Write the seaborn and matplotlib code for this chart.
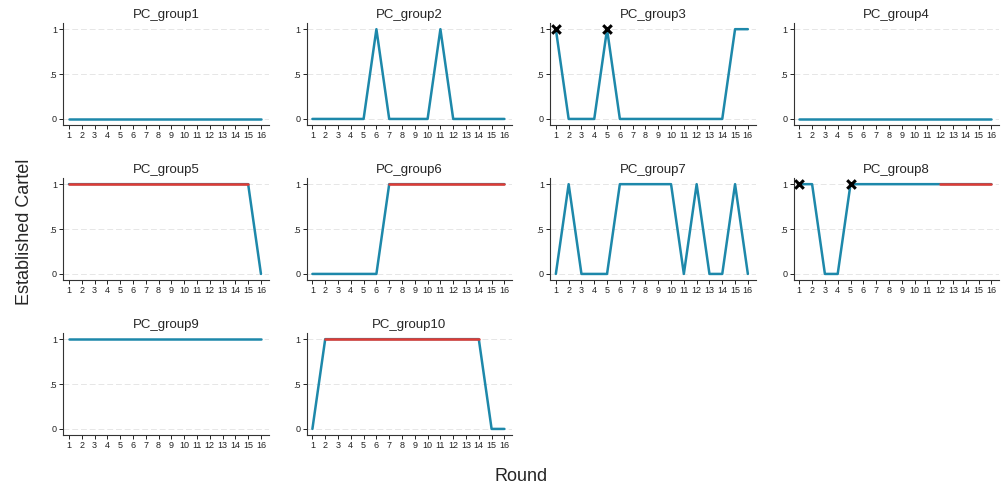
import numpy as np
import pandas as pd
import matplotlib
matplotlib.use("Agg")
import matplotlib.pyplot as plt
import seaborn as sns

rounds = list(range(1, 17))

g1 = [0, 0, 0, 0, 0, 0, 0, 0, 0, 0, 0, 0, 0, 0, 0, 0]
g2 = [0, 0, 0, 0, 0, 1, 0, 0, 0, 0, 1, 0, 0, 0, 0, 0]
g3 = [1, 0, 0, 0, 1, 0, 0, 0, 0, 0, 0, 0, 0, 0, 1, 1]
g4 = [0, 0, 0, 0, 0, 0, 0, 0, 0, 0, 0, 0, 0, 0, 0, 0]
g5 = [1, 1, 1, 1, 1, 1, 1, 1, 1, 1, 1, 1, 1, 1, 1, 0]
g6 = [0, 0, 0, 0, 0, 0, 1, 1, 1, 1, 1, 1, 1, 1, 1, 1]
g7 = [0, 1, 0, 0, 0, 1, 1, 1, 1, 1, 0, 1, 0, 0, 1, 0]
g8 = [1, 1, 0, 0, 1, 1, 1, 1, 1, 1, 1, 1, 1, 1, 1, 1]
g9 = [1, 1, 1, 1, 1, 1, 1, 1, 1, 1, 1, 1, 1, 1, 1, 1]
g10 = [0, 1, 1, 1, 1, 1, 1, 1, 1, 1, 1, 1, 1, 1, 0, 0]

# rounds drawn in red (stable cartel stretch), inclusive
red_span = {5: (1, 15), 6: (7, 16), 8: (12, 16), 10: (2, 14)}
# rounds marked with an x
x_marks = {3: [1, 5], 8: [1, 5]}

series = [g1, g2, g3, g4, g5, g6, g7, g8, g9, g10]
rows = []
for i, vals in enumerate(series, start=1):
    for r, v in zip(rounds, vals):
        rows.append({"group": i, "Round": r, "cartel": v})
df = pd.DataFrame(rows)

TEAL = "#1d88aa"
RED = "#e23b34"

sns.set_style("white")
plt.rcParams["font.family"] = ["Liberation Sans", "DejaVu Sans"]

fig, axes = plt.subplots(3, 4, figsize=(10.03, 4.91), dpi=100)
fig.subplots_adjust(left=0.063, right=0.996, top=0.953, bottom=0.114,
                    wspace=0.185, hspace=0.52)

for k, ax in enumerate(axes.flat):
    g = k + 1
    if g > 10:
        ax.axis("off")
        continue
    sub = df[df["group"] == g]
    for yv in [0, 0.5, 1]:
        ax.axhline(yv, color="#e6e6e6", lw=0.7, ls=(0, (6, 3)), zorder=0)
    sns.lineplot(data=sub, x="Round", y="cartel", ax=ax, color=TEAL, lw=1.8,
                 estimator=None, legend=False)
    if g in red_span:
        a, b = red_span[g]
        red = sub[(sub["Round"] >= a) & (sub["Round"] <= b)]
        sns.lineplot(data=red, x="Round", y="cartel", ax=ax, color=RED, lw=1.8,
                     estimator=None, legend=False)
    if g in x_marks:
        mk = sub[sub["Round"].isin(x_marks[g])]
        sns.scatterplot(data=mk, x="Round", y="cartel", ax=ax, marker="x",
                        color="black", s=38, linewidth=2.2, zorder=5, legend=False)
    ax.set_xlim(0.55, 16.6)
    ax.set_ylim(-0.068, 1.068)
    ax.set_xticks(rounds)
    ax.set_yticks([0, 0.5, 1])
    ax.set_yticklabels(["0", ".5", "1"])
    ax.tick_params(axis="both", labelsize=6.5, length=3, width=0.7,
                   pad=1.5, colors="#222222", direction="out")
    ax.tick_params(left=True, bottom=True)
    ax.set_xlabel("")
    ax.set_ylabel("")
    ax.set_title("PC_group%i" % g, fontsize=9.5, pad=4)
    sns.despine(ax=ax)
    for s in ["left", "bottom"]:
        ax.spines[s].set_color("#333333")
        ax.spines[s].set_linewidth(0.8)

fig.supylabel("Established Cartel", x=0.016, y=0.527, fontsize=13)
fig.supxlabel("Round", x=0.52, y=0.012, fontsize=13)

fig.savefig("out.png", dpi=100)
